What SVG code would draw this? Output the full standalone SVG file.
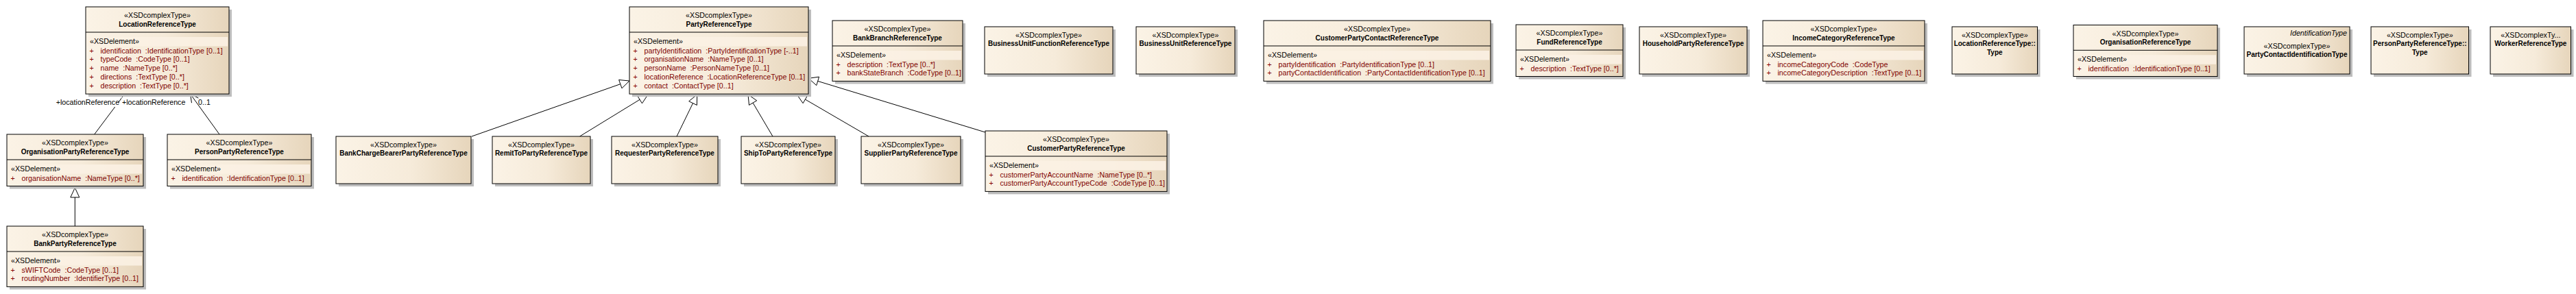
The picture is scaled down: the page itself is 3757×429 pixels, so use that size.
<svg xmlns="http://www.w3.org/2000/svg" width="3757" height="429" viewBox="0 0 3757 429">
<defs>
<linearGradient id="g" x1="0" y1="0" x2="1" y2="0">
<stop offset="0" stop-color="#FBF3E6"/>
<stop offset="0.55" stop-color="#F6EBDA"/>
<stop offset="1" stop-color="#E6D5BB"/>
</linearGradient>
<style>
.sh{fill:#BDBDBD}
.bx{fill:url(#g);stroke:#000;stroke-width:1}
.dv{stroke:#000;stroke-width:1}
.bd{fill:#FBF1E3;opacity:0.9}
text{font-family:"Liberation Sans",Arial,sans-serif;font-size:10.7px;fill:#000}
.c{text-anchor:middle}
.n{font-weight:bold;font-size:10px}
.a{fill:#800000;white-space:pre}
.i{font-style:italic;text-anchor:end}
.ln{stroke:#000;stroke-width:1;fill:none}
.tr{fill:#fff;stroke:#000;stroke-width:1}
</style>
</defs>
<rect width="3757" height="429" fill="#fff"/>

<g id="connectors">
<line class="ln" x1="137.7" y1="196" x2="181.7" y2="137.3"/>
<line class="ln" x1="320" y1="196" x2="277.7" y2="137.3"/>
<polyline class="ln" points="279.47,150.18 277.7,137.3 289.36,143.05"/>
<line class="ln" x1="109.3" y1="330" x2="109.3" y2="288"/>
<polygon class="tr" points="109.3,274 115.8,288 102.8,288"/>
<line class="ln" x1="688" y1="199" x2="904.8" y2="122.65"/>
<polygon class="tr" points="918,118 906.96,128.78 902.64,116.52"/>
<line class="ln" x1="845.5" y1="199" x2="933.06" y2="145.32"/>
<polygon class="tr" points="945,138 936.46,150.86 929.66,139.78"/>
<line class="ln" x1="987" y1="199" x2="1010.57" y2="150.59"/>
<polygon class="tr" points="1016.7,138 1016.41,153.44 1004.73,147.74"/>
<line class="ln" x1="1127" y1="199" x2="1098.12" y2="150.06"/>
<polygon class="tr" points="1091,138 1103.72,146.76 1092.52,153.36"/>
<line class="ln" x1="1267" y1="199" x2="1174.4" y2="145.05"/>
<polygon class="tr" points="1162.3,138 1177.67,139.43 1171.13,150.67"/>
<line class="ln" x1="1437" y1="193" x2="1192.69" y2="118.39"/>
<polygon class="tr" points="1179.3,114.3 1194.59,112.17 1190.79,124.61"/>
<rect x="81" y="142" width="91.5" height="14" fill="#fff"/>
<rect x="177.5" y="142" width="92" height="14" fill="#fff"/>
<text x="81.7" y="152.7">+locationReference</text>
<text x="178" y="152.7">+locationReference</text>
<text x="289" y="152.7">0..1</text>
</g>

<g id="LocationReferenceType">
<rect class="sh" x="129" y="14" width="209" height="127.1"/>
<rect class="bx" x="125" y="10" width="209" height="127.1"/>
<line class="dv" x1="125" y1="47" x2="334" y2="47"/>
<rect class="bd" x="127" y="54" width="205" height="13.5"/>
<text class="c" x="229.5" y="26">«XSDcomplexType»</text>
<text class="c n" x="229.5" y="38.5">LocationReferenceType</text>
<text x="131" y="64">«XSDelement»</text>
<text class="a" x="130.5" y="77.5">+</text><text class="a" x="146.5" y="77.5">identification  :IdentificationType [0..1]</text>
<text class="a" x="130.5" y="90.4">+</text><text class="a" x="146.5" y="90.4">typeCode  :CodeType [0..1]</text>
<text class="a" x="130.5" y="103.3">+</text><text class="a" x="146.5" y="103.3">name  :NameType [0..*]</text>
<text class="a" x="130.5" y="116.2">+</text><text class="a" x="146.5" y="116.2">directions  :TextType [0..*]</text>
<text class="a" x="130.5" y="129.1">+</text><text class="a" x="146.5" y="129.1">description  :TextType [0..*]</text>
</g>

<g id="PartyReferenceType">
<rect class="sh" x="922" y="14" width="261" height="127.1"/>
<rect class="bx" x="918" y="10" width="261" height="127.1"/>
<line class="dv" x1="918" y1="47" x2="1179" y2="47"/>
<rect class="bd" x="920" y="54" width="257" height="13.5"/>
<text class="c" x="1048.5" y="26">«XSDcomplexType»</text>
<text class="c n" x="1048.5" y="38.5">PartyReferenceType</text>
<text x="924" y="64">«XSDelement»</text>
<text class="a" x="923.5" y="77.5">+</text><text class="a" x="939.5" y="77.5">partyIdentification  :PartyIdentificationType [-..1]</text>
<text class="a" x="923.5" y="90.4">+</text><text class="a" x="939.5" y="90.4">organisationName  :NameType [0..1]</text>
<text class="a" x="923.5" y="103.3">+</text><text class="a" x="939.5" y="103.3">personName  :PersonNameType [0..1]</text>
<text class="a" x="923.5" y="116.2">+</text><text class="a" x="939.5" y="116.2">locationReference  :LocationReferenceType [0..1]</text>
<text class="a" x="923.5" y="129.1">+</text><text class="a" x="939.5" y="129.1">contact  :ContactType [0..1]</text>
</g>

<g id="OrganisationPartyReferenceType">
<rect class="sh" x="14" y="200" width="199" height="75.5"/>
<rect class="bx" x="10" y="196" width="199" height="75.5"/>
<line class="dv" x1="10" y1="233" x2="209" y2="233"/>
<rect class="bd" x="12" y="240" width="195" height="13.5"/>
<text class="c" x="109.5" y="212">«XSDcomplexType»</text>
<text class="c n" x="109.5" y="224.5">OrganisationPartyReferenceType</text>
<text x="16" y="250">«XSDelement»</text>
<text class="a" x="15.5" y="263.5">+</text><text class="a" x="31.5" y="263.5">organisationName  :NameType [0..*]</text>
</g>

<g id="PersonPartyReferenceType">
<rect class="sh" x="248" y="200" width="210" height="75.5"/>
<rect class="bx" x="244" y="196" width="210" height="75.5"/>
<line class="dv" x1="244" y1="233" x2="454" y2="233"/>
<rect class="bd" x="246" y="240" width="206" height="13.5"/>
<text class="c" x="349" y="212">«XSDcomplexType»</text>
<text class="c n" x="349" y="224.5">PersonPartyReferenceType</text>
<text x="250" y="250">«XSDelement»</text>
<text class="a" x="249.5" y="263.5">+</text><text class="a" x="265.5" y="263.5">identification  :IdentificationType [0..1]</text>
</g>

<g id="BankPartyReferenceType">
<rect class="sh" x="14" y="334" width="199" height="88.4"/>
<rect class="bx" x="10" y="330" width="199" height="88.4"/>
<line class="dv" x1="10" y1="367" x2="209" y2="367"/>
<rect class="bd" x="12" y="374" width="195" height="13.5"/>
<text class="c" x="109.5" y="346">«XSDcomplexType»</text>
<text class="c n" x="109.5" y="358.5">BankPartyReferenceType</text>
<text x="16" y="384">«XSDelement»</text>
<text class="a" x="15.5" y="397.5">+</text><text class="a" x="31.5" y="397.5">sWIFTCode  :CodeType [0..1]</text>
<text class="a" x="15.5" y="410.4">+</text><text class="a" x="31.5" y="410.4">routingNumber  :IdentifierType [0..1]</text>
</g>

<g id="BankChargeBearerPartyReferenceType">
<rect class="sh" x="494" y="203" width="197" height="69"/>
<rect class="bx" x="490" y="199" width="197" height="69"/>
<text class="c" x="588.5" y="214.7">«XSDcomplexType»</text>
<text class="c n" x="588.5" y="227.4">BankChargeBearerPartyReferenceType</text>
</g>

<g id="RemitToPartyReferenceType">
<rect class="sh" x="722" y="203" width="143" height="69"/>
<rect class="bx" x="718" y="199" width="143" height="69"/>
<text class="c" x="789.5" y="214.7">«XSDcomplexType»</text>
<text class="c n" x="789.5" y="227.4">RemitToPartyReferenceType</text>
</g>

<g id="RequesterPartyReferenceType">
<rect class="sh" x="896" y="203" width="155" height="69"/>
<rect class="bx" x="892" y="199" width="155" height="69"/>
<text class="c" x="969.5" y="214.7">«XSDcomplexType»</text>
<text class="c n" x="969.5" y="227.4">RequesterPartyReferenceType</text>
</g>

<g id="ShipToPartyReferenceType">
<rect class="sh" x="1085" y="203" width="137" height="69"/>
<rect class="bx" x="1081" y="199" width="137" height="69"/>
<text class="c" x="1149.5" y="214.7">«XSDcomplexType»</text>
<text class="c n" x="1149.5" y="227.4">ShipToPartyReferenceType</text>
</g>

<g id="SupplierPartyReferenceType">
<rect class="sh" x="1260" y="203" width="145" height="69"/>
<rect class="bx" x="1256" y="199" width="145" height="69"/>
<text class="c" x="1328.5" y="214.7">«XSDcomplexType»</text>
<text class="c n" x="1328.5" y="227.4">SupplierPartyReferenceType</text>
</g>

<g id="CustomerPartyReferenceType">
<rect class="sh" x="1441" y="195" width="265" height="88.4"/>
<rect class="bx" x="1437" y="191" width="265" height="88.4"/>
<line class="dv" x1="1437" y1="228" x2="1702" y2="228"/>
<rect class="bd" x="1439" y="235" width="261" height="13.5"/>
<text class="c" x="1569.5" y="207">«XSDcomplexType»</text>
<text class="c n" x="1569.5" y="219.5">CustomerPartyReferenceType</text>
<text x="1443" y="245">«XSDelement»</text>
<text class="a" x="1442.5" y="258.5">+</text><text class="a" x="1458.5" y="258.5">customerPartyAccountName  :NameType [0..*]</text>
<text class="a" x="1442.5" y="271.4">+</text><text class="a" x="1458.5" y="271.4">customerPartyAccountTypeCode  :CodeType [0..1]</text>
</g>

<g id="BankBranchReferenceType">
<rect class="sh" x="1218" y="34" width="190" height="88.4"/>
<rect class="bx" x="1214" y="30" width="190" height="88.4"/>
<line class="dv" x1="1214" y1="67" x2="1404" y2="67"/>
<rect class="bd" x="1216" y="74" width="186" height="13.5"/>
<text class="c" x="1309" y="46">«XSDcomplexType»</text>
<text class="c n" x="1309" y="58.5">BankBranchReferenceType</text>
<text x="1220" y="84">«XSDelement»</text>
<text class="a" x="1219.5" y="97.5">+</text><text class="a" x="1235.5" y="97.5">description  :TextType [0..*]</text>
<text class="a" x="1219.5" y="110.4">+</text><text class="a" x="1235.5" y="110.4">bankStateBranch  :CodeType [0..1]</text>
</g>

<g id="BusinessUnitFunctionReferenceType">
<rect class="sh" x="1440" y="43" width="187" height="69"/>
<rect class="bx" x="1436" y="39" width="187" height="69"/>
<text class="c" x="1529.5" y="54.7">«XSDcomplexType»</text>
<text class="c n" x="1529.5" y="67.4">BusinessUnitFunctionReferenceType</text>
</g>

<g id="BusinessUnitReferenceType">
<rect class="sh" x="1661" y="43" width="144" height="69"/>
<rect class="bx" x="1657" y="39" width="144" height="69"/>
<text class="c" x="1729" y="54.7">«XSDcomplexType»</text>
<text class="c n" x="1729" y="67.4">BusinessUnitReferenceType</text>
</g>

<g id="CustomerPartyContactReferenceType">
<rect class="sh" x="1847" y="34" width="331" height="88.4"/>
<rect class="bx" x="1843" y="30" width="331" height="88.4"/>
<line class="dv" x1="1843" y1="67" x2="2174" y2="67"/>
<rect class="bd" x="1845" y="74" width="327" height="13.5"/>
<text class="c" x="2008.5" y="46">«XSDcomplexType»</text>
<text class="c n" x="2008.5" y="58.5">CustomerPartyContactReferenceType</text>
<text x="1849" y="84">«XSDelement»</text>
<text class="a" x="1848.5" y="97.5">+</text><text class="a" x="1864.5" y="97.5">partyIdentification  :PartyIdentificationType [0..1]</text>
<text class="a" x="1848.5" y="110.4">+</text><text class="a" x="1864.5" y="110.4">partyContactIdentification  :PartyContactIdentificationType [0..1]</text>
</g>

<g id="FundReferenceType">
<rect class="sh" x="2215" y="40" width="156" height="75.5"/>
<rect class="bx" x="2211" y="36" width="156" height="75.5"/>
<line class="dv" x1="2211" y1="73" x2="2367" y2="73"/>
<rect class="bd" x="2213" y="80" width="152" height="13.5"/>
<text class="c" x="2289" y="52">«XSDcomplexType»</text>
<text class="c n" x="2289" y="64.5">FundReferenceType</text>
<text x="2217" y="90">«XSDelement»</text>
<text class="a" x="2216.5" y="103.5">+</text><text class="a" x="2232.5" y="103.5">description  :TextType [0..*]</text>
</g>

<g id="HouseholdPartyReferenceType">
<rect class="sh" x="2395" y="43" width="157" height="69"/>
<rect class="bx" x="2391" y="39" width="157" height="69"/>
<text class="c" x="2469.5" y="54.7">«XSDcomplexType»</text>
<text class="c n" x="2469.5" y="67.4">HouseholdPartyReferenceType</text>
</g>

<g id="IncomeCategoryReferenceType">
<rect class="sh" x="2575" y="34" width="236" height="88.4"/>
<rect class="bx" x="2571" y="30" width="236" height="88.4"/>
<line class="dv" x1="2571" y1="67" x2="2807" y2="67"/>
<rect class="bd" x="2573" y="74" width="232" height="13.5"/>
<text class="c" x="2689" y="46">«XSDcomplexType»</text>
<text class="c n" x="2689" y="58.5">IncomeCategoryReferenceType</text>
<text x="2577" y="84">«XSDelement»</text>
<text class="a" x="2576.5" y="97.5">+</text><text class="a" x="2592.5" y="97.5">incomeCategoryCode  :CodeType</text>
<text class="a" x="2576.5" y="110.4">+</text><text class="a" x="2592.5" y="110.4">incomeCategoryDescription  :TextType [0..1]</text>
</g>

<g id="LocationReferenceType_Type">
<rect class="sh" x="2851" y="43" width="124.5" height="69"/>
<rect class="bx" x="2847" y="39" width="124.5" height="69"/>
<text class="c" x="2909.3" y="54.5">«XSDcomplexType»</text>
<text class="c n" x="2909.3" y="67.3">LocationReferenceType::</text>
<text class="c n" x="2909.3" y="80">Type</text>
</g>

<g id="OrganisationReferenceType">
<rect class="sh" x="3028" y="40.5" width="210" height="75"/>
<rect class="bx" x="3024" y="36.5" width="210" height="75"/>
<line class="dv" x1="3024" y1="73.3" x2="3234" y2="73.3"/>
<rect class="bd" x="3026" y="80.3" width="206" height="13.5"/>
<text class="c" x="3129" y="52.5">«XSDcomplexType»</text>
<text class="c n" x="3129" y="65">OrganisationReferenceType</text>
<text x="3030" y="90.3">«XSDelement»</text>
<text class="a" x="3029.5" y="103.8">+</text><text class="a" x="3045.5" y="103.8">identification  :IdentificationType [0..1]</text>
</g>

<g id="PartyContactIdentificationType">
<rect class="sh" x="3277" y="43" width="154" height="69"/>
<rect class="bx" x="3273" y="39" width="154" height="69"/>
<text class="i" x="3423" y="51.7">IdentificationType</text>
<text class="c" x="3350" y="70.7">«XSDcomplexType»</text>
<text class="c n" x="3350" y="83.3">PartyContactIdentificationType</text>
</g>

<g id="PersonPartyReferenceType_Type">
<rect class="sh" x="3462" y="43" width="142.5" height="69"/>
<rect class="bx" x="3458" y="39" width="142.5" height="69"/>
<text class="c" x="3529.3" y="54.5">«XSDcomplexType»</text>
<text class="c n" x="3529.3" y="67.3">PersonPartyReferenceType::</text>
<text class="c n" x="3529.3" y="80">Type</text>
</g>

<g id="WorkerReferenceType">
<rect class="sh" x="3636" y="43" width="117.5" height="69"/>
<rect class="bx" x="3632" y="39" width="117.5" height="69"/>
<text class="c" x="3690.8" y="54.5">«XSDcomplexTy...</text>
<text class="c n" x="3690.8" y="67.3">WorkerReferenceType</text>
</g>
</svg>
